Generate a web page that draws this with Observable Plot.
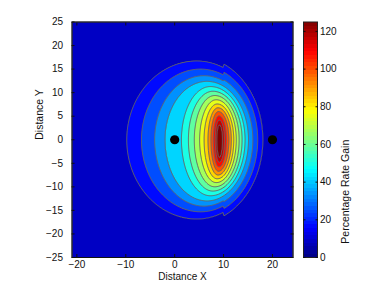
<!DOCTYPE html>
<html><head><meta charset="utf-8">
<script src="https://cdn.jsdelivr.net/npm/d3@7"></script>
<script src="https://cdn.jsdelivr.net/npm/@observablehq/plot@0.6"></script>
<style>
body{margin:0;background:#fff;}
#wrap{position:relative;width:386px;height:290px;}
#wrap svg{position:absolute;top:0;}
</style></head><body><div id="wrap"></div>
<script>
// ---- data ----
// 14 contour levels (Percentage Rate Gain) and the extents of each contour ring (data units)
const levels      = [8.33, 16.67, 25, 33.33, 41.67, 50, 58.33, 66.67, 75, 83.33, 91.67, 100, 108.33, 116.67];
const ringLeft    = [-9.8, -6.8, -4.1, -2.0, 1.4, 2.8, 4.0, 5.1, 6.0, 6.8, 7.4, 7.9, 8.3, 8.6];
const ringRight   = [18.0, 17.0, 16.0, 15.1, 14.4, 13.8, 13.2, 12.6, 12.1, 11.6, 11.1, 10.6, 10.2, 9.8];
const ringCenterX = [4.5, 5.3, 6.0, 6.6, 7.3, 7.8, 8.2, 8.5, 8.7, 8.85, 8.95, 9.05, 9.1, 9.15];
const ringTop     = [16.7, 15.0, 13.6, 12.4, 11.3, 10.3, 9.4, 8.5, 7.6, 6.8, 6.0, 5.1, 4.2, 3.2];
const ringBottom  = [-16.8, -15.3, -14.1, -13.0, -11.9, -10.9, -10.0, -9.1, -8.3, -7.5, -6.7, -5.8, -4.8, -3.8];
// right of the seam at x = seamX the outer rings reach a little further
const seamX = 10;
const ringTopRight    = [17.6, 15.7, 13.9, 12.4, 11.3, 10.3, 9.4, 8.5, 7.6, 6.8, 6.0, 5.1, 4.2, 3.2];
const ringBottomRight = [-17.7, -16.0, -14.4, -13.0, -11.9, -10.9, -10.0, -9.1, -8.3, -7.5, -6.7, -5.8, -4.8, -3.8];
const peakGain = 125;
const sourceX = [0, 20];
const sourceY = [0, 0];
const xTicks = [-20, -10, 0, 10, 20];
const yTicks = [-25, -20, -15, -10, -5, 0, 5, 10, 15, 20, 25];
const cbTicks = [0, 20, 40, 60, 80, 100, 120];
const xDomain = [-21, 24.2];
const yDomain = [-25, 25];
const cbDomain = [0, 125];

// ---- jet colormap ----
function jet(t) {
  t = Math.max(0, Math.min(1, t));
  const c = v => Math.round(255 * Math.max(0, Math.min(1, v)));
  return `rgb(${c(Math.min(4*t-1.5, -4*t+4.5))},${c(Math.min(4*t-0.5, -4*t+3.5))},${c(Math.min(4*t+0.5, -4*t+2.5))})`;
}

// ---- build the gain field from the ring table ----
function ringR(k, x, y) {
  const dx = x - ringCenterX[k];
  const rx = dx < 0 ? ringCenterX[k] - ringLeft[k] : ringRight[k] - ringCenterX[k];
  const right = x >= seamX;
  const ry = y >= 0 ? (right ? ringTopRight[k] : ringTop[k]) : -(right ? ringBottomRight[k] : ringBottom[k]);
  return Math.hypot(dx / rx, y / ry);
}
function gain(x, y) {
  const n = levels.length, r = [];
  let k = -1;
  for (let i = 0; i < n; i++) { r[i] = ringR(i, x, y); if (r[i] < 1) k = i; }
  if (k < 0) return Math.max(0, levels[0] * (1 - (r[0] - 1) * 4));
  if (k === n - 1) return levels[k] + (peakGain - levels[k]) * (1 - r[k]);
  const a = 1 - r[k], b = Math.max(1e-6, r[k + 1] - 1);
  return levels[k] + (levels[k + 1] - levels[k]) * a / (a + b);
}
const W = 226, H = 236;
const kx = (xDomain[1] - xDomain[0]) / W, ky = (yDomain[1] - yDomain[0]) / H;
const grid = new Array(W * H);
for (let j = 0; j < H; j++) {
  const y = yDomain[0] + (j + 0.5) * ky;
  for (let i = 0; i < W; i++) grid[j * W + i] = gain(xDomain[0] + (i + 0.5) * kx, y);
}
const sources = sourceX.map((x, i) => ({x, y: sourceY[i]}));

const font = {fontFamily: "'Liberation Sans', Arial, sans-serif", fontSize: "10px", background: "transparent", overflow: "visible"};
const blank = () => "";
// each filled band takes the colour of the level above it
const levelStep = levels[1] - levels[0];

const main = Plot.plot({
  width: 386, height: 290,
  marginLeft: 71.5, marginRight: 93.5, marginTop: 21.5, marginBottom: 33,
  style: font,
  x: {domain: xDomain},
  y: {domain: yDomain},
  color: {type: "linear", domain: [cbDomain[0] - levelStep, cbDomain[1] - levelStep], interpolate: jet},
  marks: [
    Plot.contour(grid, {width: W, height: H, x1: xDomain[0], x2: xDomain[1], y1: yDomain[0], y2: yDomain[1],
      value: Plot.identity, thresholds: [0, ...levels], fill: "value", stroke: "#666", strokeWidth: 1}),
    Plot.dot(sources, {x: "x", y: "y", r: 4.6, fill: "black"}),
    Plot.frame({stroke: "#111"}),
    Plot.axisX(xTicks, {anchor: "bottom", tickSize: 0, tickPadding: 3, label: null, fill: "#111"}),
    Plot.axisX(xTicks, {anchor: "bottom", tickSize: 3, dy: -3, tickFormat: blank, label: null, stroke: "#111"}),
    Plot.axisX(xTicks, {anchor: "top", tickSize: 3, dy: 3, tickFormat: blank, label: null, stroke: "#111"}),
    Plot.axisY(yTicks, {anchor: "left", tickSize: 0, tickPadding: 9, label: null, fill: "#111"}),
    Plot.axisY(yTicks, {anchor: "left", tickSize: 3, dx: 3, tickFormat: blank, label: null, stroke: "#111"}),
    Plot.axisY(yTicks, {anchor: "right", tickSize: 3, dx: -3, tickFormat: blank, label: null, stroke: "#111"}),
    Plot.text(["Distance X"], {frameAnchor: "bottom", dy: 22.5, text: d => d, fontSize: 10, fill: "#111"}),
    Plot.text(["Distance Y"], {frameAnchor: "left", dx: -32, rotate: -90, text: d => d, fontSize: 10.5, fill: "#111"})
  ]
});

const cbar = Plot.plot({
  width: 83, height: 290,
  marginLeft: 0, marginRight: 69, marginTop: 21.5, marginBottom: 33,
  style: font,
  x: {domain: [0, 1], axis: null},
  y: {domain: cbDomain},
  color: {type: "linear", domain: cbDomain, interpolate: jet},
  marks: [
    Plot.raster({fill: (x, y) => y, x1: 0, x2: 1, y1: cbDomain[0], y2: cbDomain[1], width: 1, height: 64, imageRendering: "pixelated"}),
    Plot.frame({stroke: "#222"}),
    Plot.axisY(cbTicks, {anchor: "right", tickSize: 0, tickPadding: 2.5, label: null, fill: "#111"}),
    Plot.axisY(cbTicks, {anchor: "right", tickSize: 2.5, dx: -2.5, tickFormat: blank, label: null, stroke: "#111"}),
    Plot.axisY(cbTicks, {anchor: "left", tickSize: 2.5, dx: 2.5, tickFormat: blank, label: null, stroke: "#111"}),
    Plot.text(["Percentage Rate Gain"], {frameAnchor: "right", dx: 28, rotate: -90, text: d => d, fontSize: 10.5, fill: "#111"})
  ]
});
cbar.style.left = "303px";
main.style.left = "0px";
document.getElementById("wrap").append(main, cbar);
</script>
</body></html>
